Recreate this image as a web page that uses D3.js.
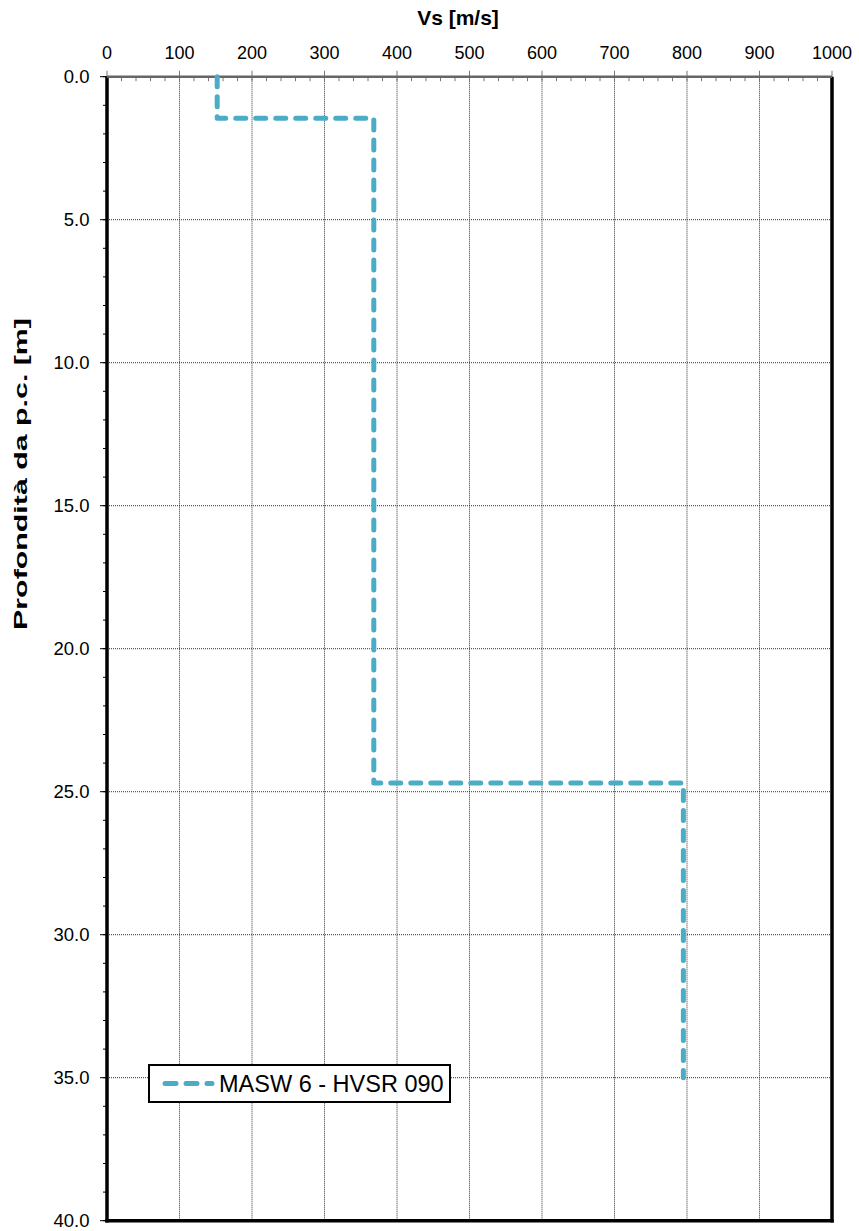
<!DOCTYPE html>
<html><head><meta charset="utf-8">
<script src="https://cdn.jsdelivr.net/npm/d3@7"></script>
<style>body{margin:0;background:#fff}svg{display:block}text{font-family:Arial,"Liberation Sans",sans-serif}</style>
</head><body>
<script>
const depth = [0, 1.45, 1.45, 24.7, 24.7, 35];
const vs = [152, 152, 368, 368, 795, 795];
const seriesName = "MASW 6 - HVSR 090";
const xTicks = [0,100,200,300,400,500,600,700,800,900,1000];
const yTicks = [0,5,10,15,20,25,30,35,40];
const xMinor = d3.range(0, 1001, 20);
const yMinor = d3.range(0, 40.01, 1);

const W = 859, H = 1231;
const L = 107, R = 832, T = 76.7, B = 1220.7;
const svg = d3.select("body").append("svg").attr("width", W).attr("height", H);
const x = d3.scaleLinear().domain([0,1000]).range([L,R]);
const y = d3.scaleLinear().domain([0,40]).range([T,B]);

// gridlines
svg.append("g").selectAll("line").data(xTicks.filter(d=>d>0&&d<1000)).join("line")
  .attr("x1",d=>x(d)).attr("x2",d=>x(d)).attr("y1",T).attr("y2",B)
  .attr("stroke","#333").attr("stroke-width",1).attr("stroke-dasharray","1,1");
svg.append("g").selectAll("line").data(yTicks.filter(d=>d>0&&d<40)).join("line")
  .attr("y1",d=>y(d)).attr("y2",d=>y(d)).attr("x1",L).attr("x2",R)
  .attr("stroke","#333").attr("stroke-width",1).attr("stroke-dasharray","1,1");

// left axis ticks
svg.append("g").selectAll("line").data(yMinor).join("line")
  .attr("x1",L-4).attr("x2",L).attr("y1",d=>y(d)).attr("y2",d=>y(d))
  .attr("stroke","#000").attr("stroke-width",1);
svg.append("g").selectAll("line").data(yTicks).join("line")
  .attr("x1",L-7).attr("x2",L).attr("y1",d=>y(d)).attr("y2",d=>y(d))
  .attr("stroke","#000").attr("stroke-width",1);
svg.append("g").selectAll("text").data(yTicks).join("text")
  .attr("x",89.5).attr("y",d=>y(d)+6.3).attr("text-anchor","end")
  .attr("font-size",18.5).text(d=>d.toFixed(1));

// top axis ticks
svg.append("g").selectAll("line").data(xMinor).join("line")
  .attr("x1",d=>x(d)).attr("x2",d=>x(d)).attr("y1",T).attr("y2",T+4.5)
  .attr("stroke","#777").attr("stroke-width",1);
svg.append("g").selectAll("line").data(xTicks).join("line")
  .attr("x1",d=>x(d)).attr("x2",d=>x(d)).attr("y1",T-6).attr("y2",T)
  .attr("stroke","#777").attr("stroke-width",1);
svg.append("g").selectAll("text").data(xTicks).join("text")
  .attr("x",d=>x(d)).attr("y",59.3).attr("text-anchor","middle")
  .attr("font-size",18).text(d=>d);

// plot border
svg.append("line").attr("x1",L).attr("x2",L).attr("y1",T).attr("y2",B+1.7).attr("stroke","#000").attr("stroke-width",3.5);
svg.append("line").attr("x1",R).attr("x2",R).attr("y1",T).attr("y2",B+1.7).attr("stroke","#000").attr("stroke-width",3.5);
svg.append("line").attr("x1",L-1.7).attr("x2",R+1.7).attr("y1",B).attr("y2",B).attr("stroke","#000").attr("stroke-width",3.5);
svg.append("line").attr("x1",L).attr("x2",R).attr("y1",T).attr("y2",T).attr("stroke","#666").attr("stroke-width",2.5);

// series
const pts = depth.map((d,i)=>[vs[i], d]);
svg.append("path").datum(pts)
  .attr("d", d3.line().x(d=>x(d[0])).y(d=>y(d[1])))
  .attr("fill","none").attr("stroke","#4bacc6").attr("stroke-width",5)
  .attr("stroke-dasharray","10,10").attr("stroke-linecap","round").attr("stroke-linejoin","round");

// titles
svg.append("text").attr("x",458).attr("y",25).attr("text-anchor","middle")
  .attr("font-size",21).attr("font-weight","bold").text("Vs [m/s]");
const yl = svg.append("text").attr("text-anchor","middle").attr("font-size",19).attr("font-weight","bold")
  .text("Profondità da p.c. [m]");
const tw = yl.node().getComputedTextLength();
yl.attr("transform",`translate(27,474) rotate(-90) scale(${312/tw},1)`);

// legend
const lg = svg.append("g");
lg.append("rect").attr("x",149).attr("y",1065).attr("width",301).attr("height",37)
  .attr("fill","#fff").attr("stroke","#000").attr("stroke-width",2);
lg.append("line").attr("x1",165).attr("x2",212).attr("y1",1083.5).attr("y2",1083.5)
  .attr("stroke","#4bacc6").attr("stroke-width",5).attr("stroke-dasharray","11,10")
  .attr("stroke-linecap","round");
lg.append("text").attr("x",219).attr("y",1091.7).attr("font-size",23.5).text(seriesName);
</script>
</body></html>
